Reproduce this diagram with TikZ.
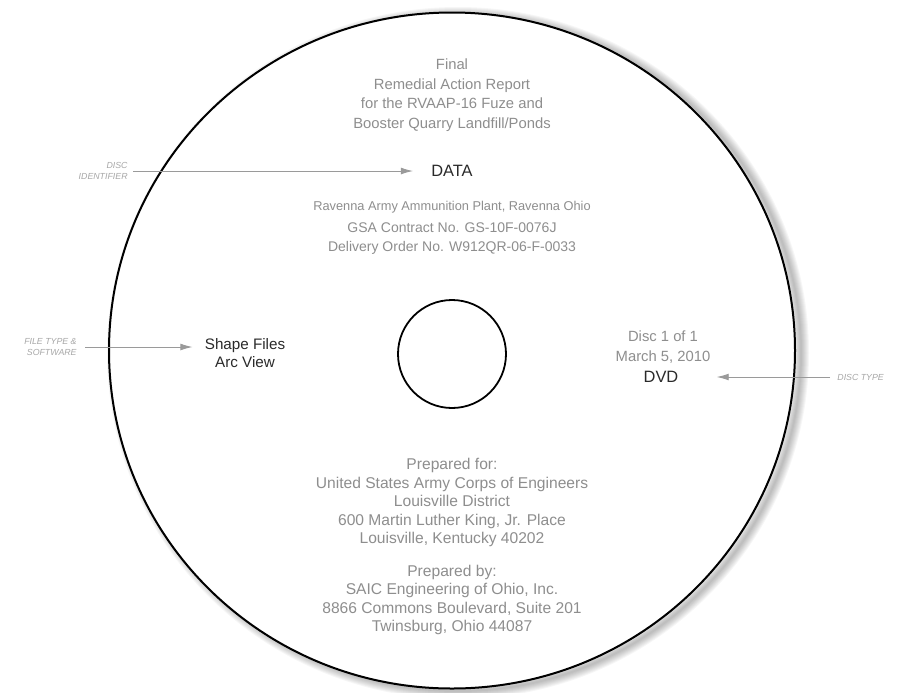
\documentclass[tikz,border=0pt]{standalone}
\usepackage{fontspec}
\setmainfont{Liberation Sans}
\usetikzlibrary{arrows.meta}
\definecolor{ink}{HTML}{8E8E8E}
\definecolor{dark}{HTML}{2A2A2A}
\definecolor{tagc}{HTML}{A6A6A6}
\definecolor{leader}{HTML}{9A9A9A}

\begin{document}
\begin{tikzpicture}[x=0.5pt, y=-0.5pt,
  txt/.style={text=ink, inner sep=0pt, align=center, font=\fontsize{7.4}{9.75}\selectfont},
  key/.style={text=dark, inner sep=0pt, align=center, font=\fontsize{8.2}{9.8}\selectfont},
  tag/.style={text=tagc, inner sep=0pt, align=right, font=\fontsize{4.4}{5.6}\selectfont\itshape},
  pointer/.style={draw=leader, line width=0.45pt, -{Latex[length=6pt, width=3.4pt]}}]
\useasboundingbox (0, 0) rectangle (900, 692);
% disc, soft shadow first
\foreach \w in {2, 4, ..., 16}
  \draw[black, opacity=0.035, line width=\w*0.5pt] (458, 353) ellipse (343 and 338);
\draw[fill=white, line width=1pt] (452, 350.5) ellipse (343 and 338);
\draw[line width=0.9pt] (452, 354) circle (54);
% printed text
\node[txt] (title) at (452, 95) {Final\\Remedial Action Report\\for the RVAAP-16 Fuze and\\Booster Quarry Landfill/Ponds};
\node[key] (data) at (452, 171) {DATA};
\node[txt, font=\fontsize{6.4}{9}\selectfont] (plant) at (452, 207) {Ravenna Army Ammunition Plant, Ravenna Ohio};
\node[txt, font=\fontsize{7}{9.5}\selectfont] (contract) at (452, 239) {GSA Contract No. GS-10F-0076J\\Delivery Order No. W912QR-06-F-0033};
\node[key, font=\fontsize{7.6}{8.6}\selectfont] (files) at (245, 353) {Shape Files\\Arc View};
\node[txt] (disc) at (663, 347) {Disc 1 of 1\\March 5, 2010};
\node[key] (dvd) at (661, 377) {DVD};
\node[txt, font=\fontsize{7.8}{9.25}\selectfont] (prepfor) at (452, 502.5) {Prepared for:\\United States Army Corps of Engineers\\Louisville District\\600 Martin Luther King, Jr. Place\\Louisville, Kentucky 40202};
\node[txt, font=\fontsize{7.8}{9.25}\selectfont] (prepby) at (452, 600) {Prepared by:\\SAIC Engineering of Ohio, Inc.\\8866 Commons Boulevard, Suite 201\\Twinsburg, Ohio 44087};
% callouts
\node[tag, anchor=east] (discid) at (128, 171) {DISC\\IDENTIFIER};
\node[tag, anchor=east] (ftype) at (77, 347) {FILE TYPE \&\\SOFTWARE};
\node[tag, anchor=west] (dtype) at (837, 377) {DISC TYPE};
\draw[pointer, shorten <=2.5pt, shorten >=9pt] (discid.east) -- (data.west |- discid.east);
\draw[pointer, shorten <=4pt, shorten >=6pt] (ftype.east) -- (files.west |- ftype.east);
\draw[pointer, shorten <=3.5pt, shorten >=19pt] (dtype.west) -- (dvd.east |- dtype.west);
\end{tikzpicture}
\end{document}
